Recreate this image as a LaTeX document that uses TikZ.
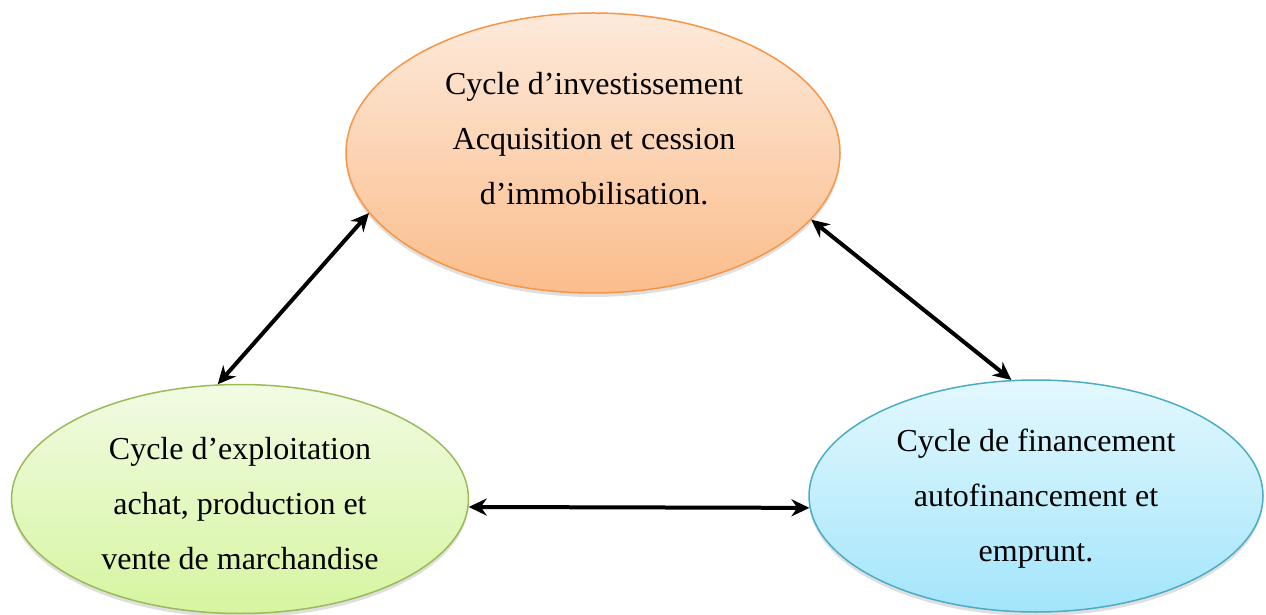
\documentclass[tikz,border=0pt]{standalone}
\usepackage{fontspec}
\setmainfont{Liberation Serif}
\usetikzlibrary{shapes.geometric,arrows.meta,shadows}
\definecolor{orTop}{HTML}{FDEADB}
\definecolor{orBot}{HTML}{FBBD8B}
\definecolor{orLine}{HTML}{F79646}
\definecolor{grTop}{HTML}{F1FBE3}
\definecolor{grBot}{HTML}{D6F5A0}
\definecolor{grLine}{HTML}{9BBB59}
\definecolor{blTop}{HTML}{E3F8FE}
\definecolor{blBot}{HTML}{A3E5FB}
\definecolor{blLine}{HTML}{4BACC6}
\tikzset{
  cyc/.style={ellipse, inner sep=0pt, line width=1.5pt,
    drop shadow={opacity=0.25, shadow xshift=0pt, shadow yshift=-4pt}},
  txt/.style={align=center, inner sep=0pt, font=\fontsize{32}{55}\selectfont},
  dbl/.style={line width=4pt, {Stealth[length=18pt,width=17pt]}-{Stealth[length=18pt,width=17pt]}}
}
\begin{document}
\begin{tikzpicture}[x=1pt,y=1pt]
\useasboundingbox (0,0) rectangle (1266,614);
\node[cyc, draw=orLine, top color=orTop, bottom color=orBot,
  minimum width=494pt, minimum height=280pt] (inv) at (593,461) {};
\node[cyc, draw=grLine, top color=grTop, bottom color=grBot,
  minimum width=457pt, minimum height=229pt] (exp) at (240,115) {};
\node[cyc, draw=blLine, top color=blTop, bottom color=blBot,
  minimum width=454pt, minimum height=232pt] (fin) at (1036,118) {};
\node[txt] (invtxt) at (594,475) {Cycle d’investissement\\Acquisition et cession\\d’immobilisation.};
\node[txt] (exptxt) at (240,110) {Cycle d’exploitation\\achat, production et\\vente de marchandise};
\node[txt] (fintxt) at (1036,115) {Cycle de financement\\autofinancement et\\emprunt.};
\draw[dbl] (exp.101.6) -- (inv.195);
\draw[dbl] (inv.343.5) -- (fin.102);
\draw[dbl] (exp.358.5) -- (fin.183);
\end{tikzpicture}
\end{document}
